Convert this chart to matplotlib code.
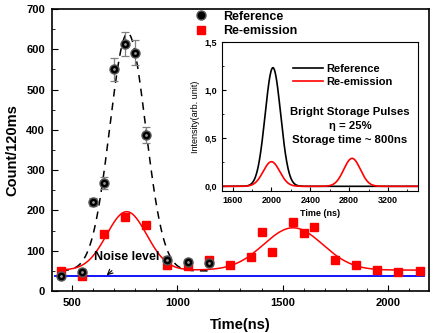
import numpy as np
import matplotlib.pyplot as plt
from matplotlib.ticker import MultipleLocator

plt.rcParams['font.family'] = ['Liberation Sans', 'DejaVu Sans']
plt.rcParams['font.weight'] = 'bold'

# reference (black) data
t_ref = [450, 550, 600, 650, 700, 750, 800, 850, 950, 1050, 1150]
c_ref = [37, 48, 220, 268, 550, 613, 592, 387, 78, 72, 69]
e_ref = [5, 6, 10, 14, 28, 30, 30, 20, 8, 7, 7]

# re-emission (red) data
t_re = [450, 550, 650, 750, 850, 950, 1050, 1150, 1250, 1350, 1400, 1450,
        1550, 1600, 1650, 1750, 1850, 1950, 2050, 2150]
c_re = [50, 37, 141, 184, 163, 65, 62, 77, 64, 84, 146, 97,
        171, 144, 158, 77, 64, 52, 47, 50]

noise = 37

# gaussian fit parameters: baseline, (amp, centre, sigma) ...
fit_ref = (50, [(590, 765, 85)])
fit_re = (52, [(145, 760, 95), (105, 1550, 140)])

# inset pulses
ins_ref = (0.0, [(1.23, 2015, 80)])
ins_re = (0.0, [(0.255, 2000, 85), (0.29, 2830, 85)])


def gauss(x, p):
    y = np.full_like(x, p[0], dtype=float)
    for a, c, s in p[1]:
        y += a * np.exp(-(x - c) ** 2 / (2 * s ** 2))
    return y


fig = plt.figure(figsize=(4.36, 3.33), dpi=100)
ax = fig.add_axes([0.119, 0.126, 0.865, 0.847])

x1 = np.linspace(450, 1150, 300)
ax.plot(x1, gauss(x1, fit_ref), 'k--', lw=1.1, dashes=(5, 4))
x2 = np.linspace(450, 2150, 500)
ax.plot(x2, gauss(x2, fit_re), color='red', lw=1.1)
ax.plot([420, 2170], [noise, noise], color='blue', lw=1.3)

ax.errorbar(t_ref, c_ref, yerr=e_ref, fmt='none', ecolor='gray', elinewidth=0.9,
            capsize=3, capthick=0.9)
ax.plot(t_re, c_re, 's', color='red', ms=5.5, ls='none', label='Re-emission')
ax.plot(t_ref, c_ref, 'o', mfc='black', mec='#555555', ms=6.5, ls='none',
        label='Reference')
ax.plot(t_ref, c_ref, 'o', mfc='white', mec='none', ms=2, alpha=0.6,
        ls='none')

ax.annotate('Noise level', xy=(665, noise + 2), xytext=(761, 84),
            ha='center', va='center', fontsize=9, fontweight='bold',
            arrowprops=dict(arrowstyle='->', color='black', lw=0.8,
                            shrinkA=5, shrinkB=0))

ax.set_xlim(405, 2195)
ax.set_ylim(0, 700)
ax.xaxis.set_major_locator(MultipleLocator(500))
ax.xaxis.set_minor_locator(MultipleLocator(100))
ax.yaxis.set_major_locator(MultipleLocator(100))
ax.yaxis.set_minor_locator(MultipleLocator(50))
ax.tick_params(which='both', direction='in', labelsize=8)
ax.tick_params(which='major', length=4, pad=5)
ax.tick_params(which='minor', length=2)
ax.set_xlabel('Time(ns)', fontsize=10.5, fontweight='bold', labelpad=7)
ax.set_ylabel('Count/120ms', fontsize=10.5, fontweight='bold', labelpad=5)
for sp in ax.spines.values():
    sp.set_linewidth(1.2)

h, l = ax.get_legend_handles_labels()
ax.legend(h[::-1], l[::-1], loc='upper left', bbox_to_anchor=(0.365, 1.012),
          frameon=False, fontsize=9, handlelength=1.0, handletextpad=1.3,
          labelspacing=0.2, borderaxespad=0)

# inset
ins = fig.add_axes([0.509, 0.426, 0.450, 0.449])
xi = np.linspace(1490, 3510, 600)
ins.plot(xi, gauss(xi, ins_ref), color='black', lw=1.2, label='Reference')
ins.plot(xi, gauss(xi, ins_re), color='red', lw=1.2, label='Re-emission')
ins.set_xlim(1490, 3510)
ins.set_ylim(-0.05, 1.5)
ins.xaxis.set_major_locator(MultipleLocator(400))
ins.xaxis.set_minor_locator(MultipleLocator(200))
ins.yaxis.set_major_locator(MultipleLocator(0.5))
ins.yaxis.set_minor_locator(MultipleLocator(0.25))
ins.yaxis.set_major_formatter(lambda v, pos: f'{v:.1f}'.replace('.', ','))
ins.tick_params(which='both', direction='in', labelsize=6.5)
ins.tick_params(which='major', length=3)
ins.tick_params(which='minor', length=1.5)
ins.set_xlabel('Time (ns)', fontsize=6.5, fontweight='bold', labelpad=3)
ins.set_ylabel('Intensity(arb. unit)', fontsize=6.5, fontweight='normal',
               labelpad=3)
ins.legend(loc='upper left', bbox_to_anchor=(0.34, 0.88), frameon=False,
           fontsize=8, handlelength=2.7, handletextpad=0.3, labelspacing=0.3,
           borderaxespad=0)
ins.text(0.653, 0.436, 'Bright Storage Pulses\n\u03b7 = 25%\nStorage time ~ 800ns',
         transform=ins.transAxes, ha='center', va='center', fontsize=8.2,
         fontweight='bold', linespacing=1.45)

fig.savefig('out.png', dpi=100)
